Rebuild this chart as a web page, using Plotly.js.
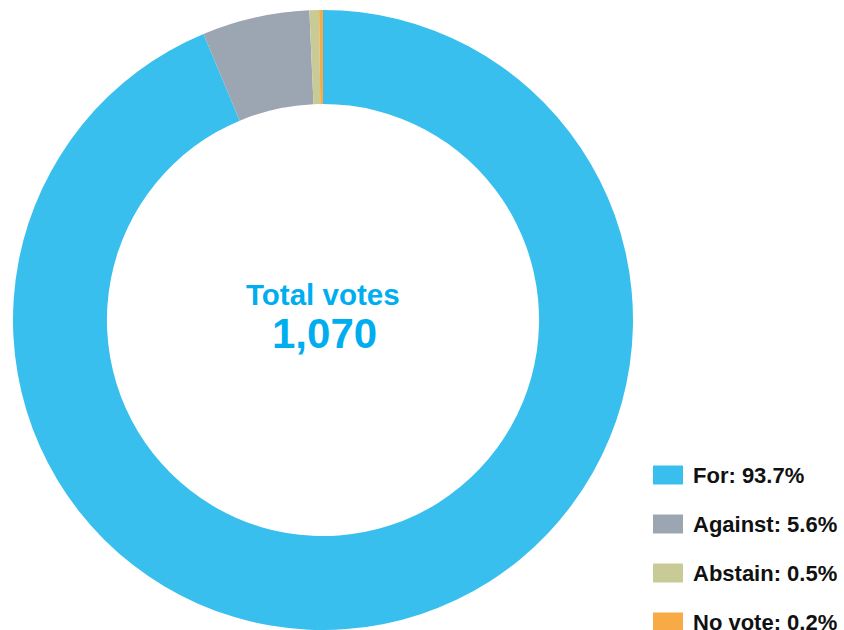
<!DOCTYPE html>
<html>
<head>
<meta charset="utf-8">
<script src="https://cdn.plot.ly/plotly-3.0.1.min.js"></script>
<style>html,body{margin:0;padding:0;background:#fff;}#chart{width:844px;height:630px;}</style>
</head>
<body>
<div id="chart"></div>
<script>
const categories = ["For", "Against", "Abstain", "No vote"];
const percentages = [93.7, 5.6, 0.5, 0.2];
const colors = ["#38BFEE", "#9CA6B2", "#C8CB96", "#F7AA45"];
const centerTitle = "Total votes";
const totalVotes = "1,070";

const W = 844, H = 630;
const font = "Liberation Sans, Arial, Helvetica, sans-serif";

const trace = {
  type: "pie",
  labels: categories,
  values: percentages,
  sort: false,
  direction: "clockwise",
  rotation: 0,
  hole: 0.697,
  textinfo: "none",
  hoverinfo: "label+percent",
  marker: {colors: colors, line: {width: 0}},
  showlegend: false,
  domain: {x: [13 / W, 633 / W], y: [0, 620 / H]}
};

const shapes = [];
const annotations = [
  {text: "<b>" + centerTitle + "</b>", x: 323 / W, y: 1 - 294 / H, xref: "paper", yref: "paper",
   showarrow: false, xanchor: "center", yanchor: "middle", font: {family: font, size: 29.5, color: "#00AEEF"}},
  {text: "<b>" + totalVotes + "</b>", x: 324 / W, y: 1 - 333 / H, xref: "paper", yref: "paper",
   showarrow: false, xanchor: "center", yanchor: "middle", font: {family: font, size: 42, color: "#00AEEF"}}
];
categories.forEach((c, i) => {
  const yc = 475 + i * 49;
  shapes.push({type: "rect", xref: "paper", yref: "paper", x0: 653 / W, x1: 683 / W,
    y0: 1 - (yc + 9.5) / H, y1: 1 - (yc - 9.5) / H, fillcolor: colors[i], line: {width: 0}});
  annotations.push({text: "<b>" + c + ": " + percentages[i].toFixed(1) + "%</b>", xref: "paper", yref: "paper",
    x: 691 / W, y: 1 - yc / H, xanchor: "left", yanchor: "middle", showarrow: false,
    font: {family: font, size: 22, color: "#111111"}});
});

const layout = {
  width: W, height: H,
  margin: {l: 0, r: 0, t: 0, b: 0},
  paper_bgcolor: "#ffffff",
  showlegend: false,
  shapes: shapes,
  annotations: annotations
};
Plotly.newPlot("chart", [trace], layout, {displayModeBar: false, staticPlot: true});
</script>
</body>
</html>
